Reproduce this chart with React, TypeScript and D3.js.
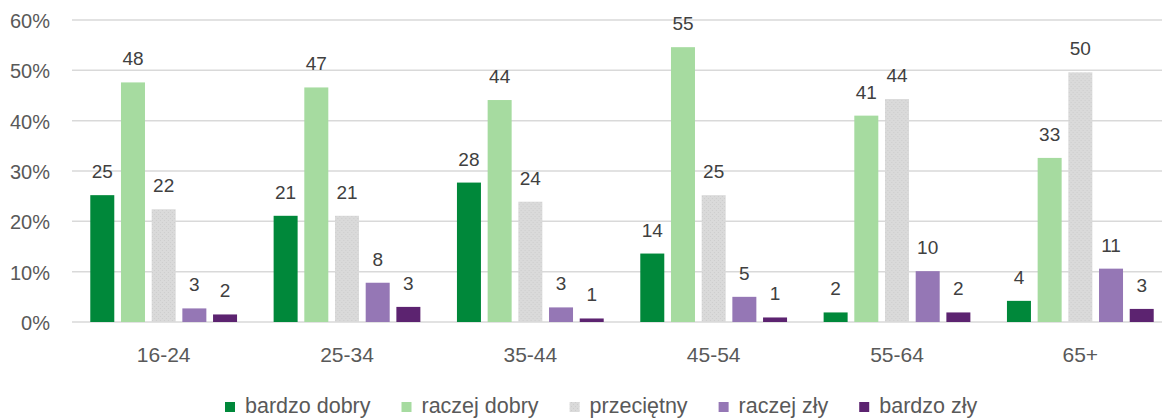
import { useEffect, useRef } from "react";
import * as d3 from "d3";

const ageGroups = ["16-24", "25-34", "35-44", "45-54", "55-64", "65+"];
const seriesNames = ["bardzo dobry", "raczej dobry", "przeciętny", "raczej zły", "bardzo zły"];

const bardzoDobry = [25.2, 21.1, 27.7, 13.6, 1.9, 4.2];
const raczejDobry = [47.6, 46.6, 44.1, 54.6, 41.0, 32.6];
const przecietny = [22.4, 21.1, 23.9, 25.2, 44.3, 49.6];
const raczejZly = [2.7, 7.8, 2.9, 5.0, 10.1, 10.6];
const bardzoZly = [1.5, 3.0, 0.7, 0.9, 1.9, 2.6];

const yTicks = [0, 10, 20, 30, 40, 50, 60];

const colors = ["#00883a", "#a6dba0", "url(#grayDots)", "#9577b5", "#5c2370"];

const W = 1162;
const H = 419;
const FONT = "'Liberation Sans', Arial, sans-serif";

function App() {
  const ref = useRef<SVGSVGElement>(null);

  useEffect(() => {
    document.body.style.margin = "0";
    const svg = d3.select(ref.current);
    svg.selectAll("*").remove();

    const allSeries = [bardzoDobry, raczejDobry, przecietny, raczejZly, bardzoZly];

    // dotted texture for the grey bars
    const pat = svg.append("defs").append("pattern")
      .attr("id", "grayDots")
      .attr("width", 4).attr("height", 4)
      .attr("patternUnits", "userSpaceOnUse");
    pat.append("rect").attr("width", 4).attr("height", 4).attr("fill", "#dadada");
    pat.append("rect").attr("x", 1).attr("y", 0).attr("width", 1).attr("height", 1).attr("fill", "#cdcdcd");
    pat.append("rect").attr("x", 3).attr("y", 2).attr("width", 1).attr("height", 1).attr("fill", "#cdcdcd");

    const x0 = d3.scaleBand().domain(ageGroups).range([72, 1172])
      .paddingInner(0.163).paddingOuter(0.0815);
    const x1 = d3.scaleBand().domain(seriesNames).range([0, x0.bandwidth()])
      .paddingInner(0.218).paddingOuter(0.109);
    const y = d3.scaleLinear().domain([0, 60]).range([322, 20]);

    // gridlines
    svg.append("g").selectAll("line")
      .data(yTicks)
      .join("line")
      .attr("x1", 72).attr("x2", W)
      .attr("y1", d => y(d)).attr("y2", d => y(d))
      .attr("stroke", "#d9d9d9")
      .attr("stroke-width", 1.5);

    // y tick labels
    svg.append("g").selectAll("text")
      .data(yTicks)
      .join("text")
      .attr("x", 50)
      .attr("y", d => y(d) + 8)
      .attr("text-anchor", "end")
      .attr("font-family", FONT)
      .attr("font-size", 20)
      .attr("fill", "#595959")
      .text(d => d + "%");

    // bars
    const groups = svg.append("g").selectAll("g")
      .data(ageGroups)
      .join("g")
      .attr("transform", d => `translate(${x0(d)},0)`);

    groups.selectAll("rect")
      .data((_, i) => seriesNames.map((s, j) => ({ s, j, v: allSeries[j][i] })))
      .join("rect")
      .attr("x", d => x1(d.s)!)
      .attr("width", x1.bandwidth())
      .attr("y", d => y(d.v))
      .attr("height", d => y(0) - y(d.v))
      .attr("fill", d => colors[d.j]);

    groups.selectAll("text")
      .data((_, i) => seriesNames.map((s, j) => ({ s, j, v: allSeries[j][i] })))
      .join("text")
      .attr("x", d => x1(d.s)! + x1.bandwidth() / 2)
      .attr("y", d => y(d.v) - 17)
      .attr("text-anchor", "middle")
      .attr("font-family", FONT)
      .attr("font-size", 19)
      .attr("fill", "#404040")
      .text(d => Math.round(d.v));

    // x axis labels
    svg.append("g").selectAll("text")
      .data(ageGroups)
      .join("text")
      .attr("x", d => x0(d)! + x0.bandwidth() / 2)
      .attr("y", 362)
      .attr("text-anchor", "middle")
      .attr("font-family", FONT)
      .attr("font-size", 21)
      .attr("fill", "#595959")
      .text(d => d);

    // legend
    const legend = svg.append("g");
    let lx = 225;
    seriesNames.forEach((name, j) => {
      legend.append("rect")
        .attr("x", lx).attr("y", 402)
        .attr("width", 10).attr("height", 10)
        .attr("fill", colors[j]);
      const t = legend.append("text")
        .attr("x", lx + 20)
        .attr("y", 413)
        .attr("font-family", FONT)
        .attr("font-size", 21.5)
        .attr("fill", "#595959")
        .text(name);
      const w = (t.node() as SVGTextElement).getComputedTextLength();
      lx = lx + 20 + w + 31;
    });
  }, []);

  return <svg ref={ref} width={W} height={H} style={{ display: "block" }}></svg>;
}

export default App;
